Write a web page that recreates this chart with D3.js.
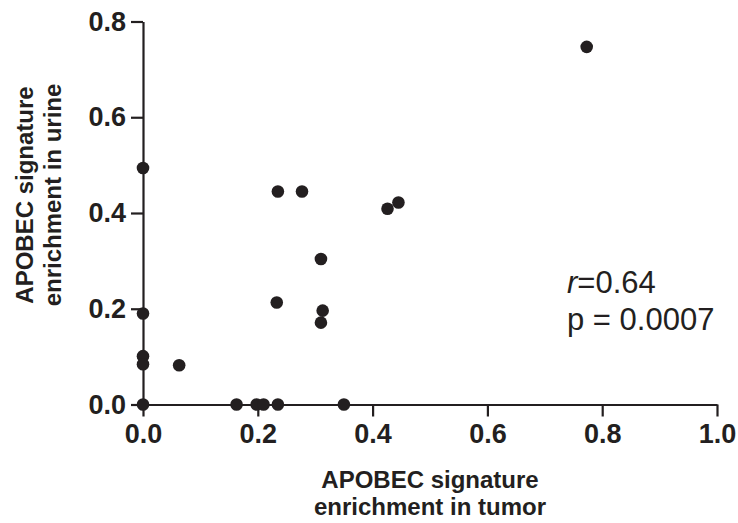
<!DOCTYPE html>
<html>
<head>
<meta charset="utf-8">
<script src="https://cdn.jsdelivr.net/npm/d3@7"></script>
<style>
  html, body { margin: 0; padding: 0; background: #fff; }
  svg { display: block; font-family: "Liberation Sans", Arial, Helvetica, sans-serif; }
</style>
</head>
<body>
<svg id="chart" width="738" height="523"></svg>
<script>
// Data
const tumorValues = [0, 0, 0, 0, 0, 0.063, 0.163, 0.198, 0.210, 0.235, 0.350,
                     0.235, 0.277, 0.310, 0.233, 0.313, 0.310, 0.426, 0.445, 0.773];
const urineValues = [0.494, 0.190, 0.101, 0.084, 0, 0.082, 0, 0, 0, 0, 0,
                     0.445, 0.445, 0.304, 0.213, 0.196, 0.171, 0.409, 0.422, 0.747];
const xTicks = [0, 0.2, 0.4, 0.6, 0.8, 1.0];
const yTicks = [0, 0.2, 0.4, 0.6, 0.8];
const xTitleLines = ["APOBEC signature", "enrichment in tumor"];
const yTitleLines = ["APOBEC signature", "enrichment in urine"];
const statR = "0.64";
const statP = "p = 0.0007";

const ink = "#231f20";
const svg = d3.select("#chart");

const x = d3.scaleLinear().domain([0, 1.0]).range([143, 717]);
const y = d3.scaleLinear().domain([0, 0.8]).range([404.5, 21.5]);

// Axes
const xAxis = d3.axisBottom(x).tickValues(xTicks).tickFormat(d3.format(".1f"))
  .tickSize(12).tickSizeOuter(0).tickPadding(7);
const yAxis = d3.axisLeft(y).tickValues(yTicks).tickFormat(d3.format(".1f"))
  .tickSize(12).tickSizeOuter(0).tickPadding(5);

const gx = svg.append("g").attr("transform", `translate(0,${y(0)})`).call(xAxis);
const gy = svg.append("g").attr("transform", `translate(${x(0)},0)`).call(yAxis);

[gx, gy].forEach(g => {
  g.selectAll(".domain").attr("stroke", ink).attr("stroke-width", 2.2);
  g.selectAll(".tick line").attr("stroke", ink).attr("stroke-width", 2.2);
  g.selectAll(".tick text")
    .attr("fill", ink)
    .style("font-family", '"Liberation Sans", Arial, sans-serif')
    .style("font-weight", "bold")
    .style("font-size", "27px");
});

// Points
const pts = tumorValues.map((t, i) => ({ t, u: urineValues[i] }));
svg.append("g").selectAll("circle").data(pts).join("circle")
  .attr("cx", d => x(d.t))
  .attr("cy", d => y(d.u))
  .attr("r", 6.3)
  .attr("fill", ink);

// X title
const xt = svg.append("text")
  .attr("text-anchor", "middle")
  .attr("fill", ink)
  .style("font-weight", "bold")
  .style("font-size", "24px");
xTitleLines.forEach((line, i) => {
  xt.append("tspan").attr("x", (x(0) + x(1)) / 2).attr("y", 488 + i * 27).text(line);
});

// Y title
const yt = svg.append("text")
  .attr("text-anchor", "middle")
  .attr("fill", ink)
  .attr("transform", "translate(0,195) rotate(-90)")
  .style("font-weight", "bold")
  .style("font-size", "24px");
yTitleLines.forEach((line, i) => {
  yt.append("tspan").attr("x", 0).attr("y", 33 + i * 28).text(line);
});

// Stats annotation
const st = svg.append("g").attr("fill", ink).style("font-size", "31px");
const r1 = st.append("text").attr("x", 567).attr("y", 293);
r1.append("tspan").style("font-style", "italic").text("r");
r1.append("tspan").text("=" + statR);
st.append("text").attr("x", 567).attr("y", 330).text(statP);
</script>
</body>
</html>
